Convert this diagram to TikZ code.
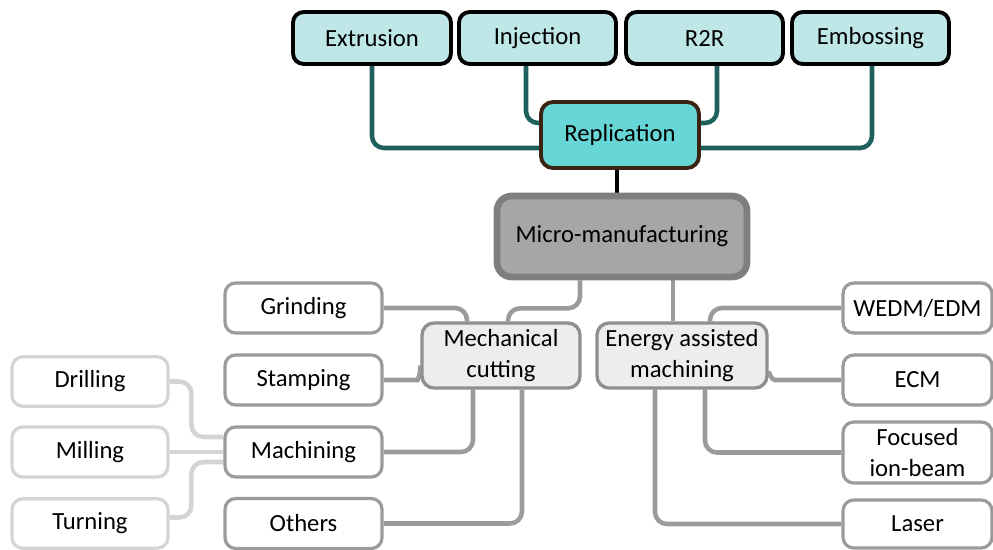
\documentclass[tikz,border=0pt]{standalone}
\usepackage{fontspec}
\setmainfont{Carlito}
\usetikzlibrary{calc,backgrounds}
\definecolor{topfill}{HTML}{C0E7E7}
\definecolor{replfill}{HTML}{66D6D6}
\definecolor{replline}{HTML}{3B2314}
\definecolor{tealline}{HTML}{1F605F}
\definecolor{microfill}{HTML}{A6A6A6}
\definecolor{microline}{HTML}{7F7F7F}
\definecolor{midfill}{HTML}{EDEDED}
\definecolor{midline}{HTML}{8F8F8F}
\definecolor{greyline}{HTML}{9B9B9B}
\definecolor{lightline}{HTML}{D4D4D4}
\begin{document}
\begin{tikzpicture}[x=0.75pt,y=-0.75pt,
  every node/.style={font=\fontsize{18.5}{23.5}\selectfont, inner sep=0pt, align=center, text=black},
  topbox/.style={draw=black, line width=2.9pt, fill=topfill, rounded corners=8pt, minimum width=117.75pt, minimum height=39pt},
  replbox/.style={draw=replline, line width=2.9pt, fill=replfill, rounded corners=9pt, minimum width=118.5pt, minimum height=49.5pt},
  microbox/.style={draw=microline, line width=5pt, fill=microfill, rounded corners=11pt, minimum width=187.5pt, minimum height=60.75pt},
  midbox/.style={draw=midline, line width=2.5pt, fill=midfill, rounded corners=9pt, minimum height=48.75pt},
  leafbox/.style={draw=greyline, line width=2.4pt, fill=white, rounded corners=8pt, minimum width=117.75pt, minimum height=37.5pt},
  rightbox/.style={draw=greyline, line width=2.4pt, fill=white, rounded corners=8pt, minimum width=111.75pt, minimum height=37.5pt},
  farbox/.style={draw=lightline, line width=2.4pt, fill=white, rounded corners=8pt, minimum width=117pt, minimum height=37pt},
  tealconn/.style={draw=tealline, line width=3.4pt, rounded corners=9pt},
  greyconn/.style={draw=greyline, line width=3.4pt, rounded corners=9pt},
  lightconn/.style={draw=lightline, line width=3.4pt, rounded corners=9pt},
  blackconn/.style={draw=black, line width=3.4pt}]
\useasboundingbox (0,0) rectangle (993,550);

% top row
\node[topbox, minimum width=118.5pt] (extr) at (372,38) {Extrusion};
\node[topbox] (inj) at (537.5,38) {Injection};
\node[topbox] (r2r) at (704.5,38) {R2R};
\node[topbox] (emb) at (870.5,38) {Embossing};
\node[replbox] (repl) at (620,135) {Replication};
\node[microbox] (micro) at (622,236.5) {Micro-manufacturing};
\node[midbox, minimum width=118.5pt] (mech) at (501,355.5) {Mechanical\\cutting};
\node[midbox, minimum width=127.5pt] (energy) at (682,355.5) {Energy assisted\\machining};

% left column
\node[leafbox] (grind) at (303.5,308) {Grinding};
\node[leafbox] (stamp) at (303.5,380) {Stamping};
\node[leafbox] (mach) at (303.5,452) {Machining};
\node[leafbox] (others) at (303.5,523.5) {Others};

% far left
\node[farbox] (drill) at (90,381.5) {Drilling};
\node[farbox, minimum height=37.5pt] (mill) at (90,452) {Milling};
\node[farbox] (turn) at (90,523.5) {Turning};

% right column
\node[rightbox] (wedm) at (917.5,308) {WEDM/EDM};
\node[rightbox] (ecm) at (917.5,380) {ECM};
\node[rightbox, minimum height=45.75pt] (fib) at (917.5,452.5) {Focused\\ion-beam};
\node[rightbox, minimum height=36pt] (laser) at (917.5,524) {Laser};

\begin{scope}[on background layer]
% replication connectors
\draw[tealconn] (extr.south) |- ($(repl.west)+(0,13)$);
\draw[tealconn] ($(inj.south)+(-11.5,0)$) |- ($(repl.west)+(0,-12)$);
\draw[tealconn] ($(r2r.south)+(12.5,0)$) |- ($(repl.east)+(0,-12)$);
\draw[tealconn] ($(emb.south)+(1.5,0)$) |- ($(repl.east)+(0,13)$);
\draw[blackconn] ($(repl.south)+(-3,0)$) coordinate (ra) -- (ra |- micro.north);
% micro connectors
\draw[greyconn] ($(micro.south)+(-42,0)$) -- ++(0,28) -| ($(mech.north)+(7,0)$);
\draw[greyconn] ($(micro.south)+(51,0)$) coordinate (mb) -- (mb |- energy.north);
% mechanical cutting
\draw[greyconn] ($(mech.north)+(-34,0)$) |- (grind.east);
\draw[greyconn] (stamp.east) -- ($(stamp.east)+(22,0)$) .. controls ($(stamp.east)+(34,0)$) and ($(mech.west)+(0,20)$) .. ($(mech.west)+(0,10)$);
\draw[greyconn] ($(mech.south)+(-28,0)$) |- (mach.east);
\draw[greyconn] ($(mech.south)+(21,0)$) |- (others.east);
% energy assisted
\draw[greyconn] ($(energy.north)+(28,0)$) |- (wedm.west);
\draw[greyconn] ($(energy.east)+(0,16)$) .. controls ($(energy.east)+(3,25)$) and ($(ecm.west)+(-66,0)$) .. ($(ecm.west)+(-56,0)$) -- (ecm.west);
\draw[greyconn] ($(energy.south)+(23,0)$) |- (fib.west);
\draw[greyconn] ($(energy.south)+(-27,0)$) |- (laser.west);
% machining
\draw[lightconn] (drill.east) -| ($(mach.west)+(-32,-15)$) -- ($(mach.west)+(0,-15)$);
\draw[lightconn] (mill.east) -- (mach.west);
\draw[lightconn] ($(turn.east)+(0,-6)$) -| ($(mach.west)+(-32,10)$) -- ($(mach.west)+(0,10)$);
\end{scope}
\end{tikzpicture}
\end{document}
